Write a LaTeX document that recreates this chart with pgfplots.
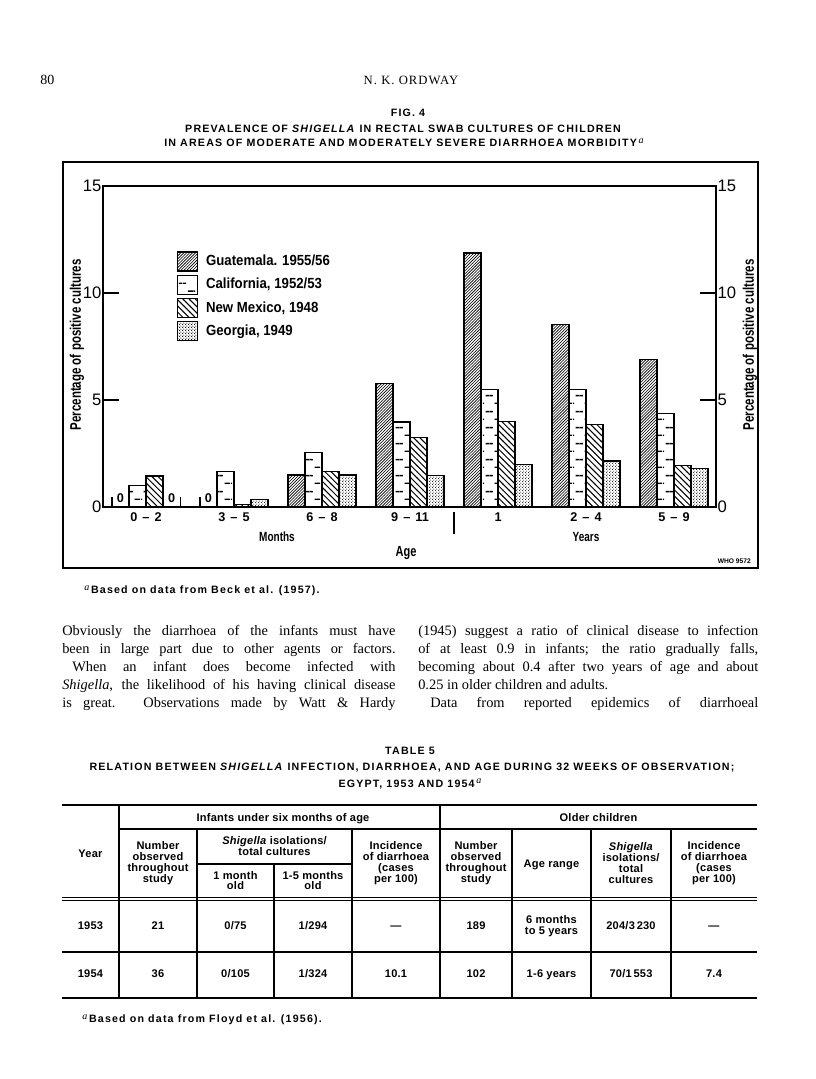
\documentclass[border=0pt]{standalone}
\usepackage{fontspec}
\setmainfont{Liberation Serif}
\newfontfamily\hv{Liberation Sans}
\newfontfamily\hvc[FakeStretch=0.75]{Liberation Sans}
\newfontfamily\hvl[FakeStretch=0.9]{Liberation Sans}
\newfontfamily\hvt[LetterSpace=11]{Liberation Sans}
\newfontfamily\hvtab[LetterSpace=2]{Liberation Sans}
\usepackage{pgfplots}
\usepackage{pgfplotstable}
\pgfplotsset{compat=1.18}
\usetikzlibrary{patterns}

\pgfdeclarepatternformonly{guat}{\pgfqpoint{-1pt}{-1pt}}{\pgfqpoint{3.2pt}{3.2pt}}{\pgfqpoint{2.2pt}{2.2pt}}{%
  \pgfsetlinewidth{0.45pt}%
  \pgfpathmoveto{\pgfqpoint{-0.1pt}{-0.1pt}}%
  \pgfpathlineto{\pgfqpoint{2.3pt}{2.3pt}}%
  \pgfusepath{stroke}}
\pgfdeclarepatternformonly{nm}{\pgfqpoint{-1pt}{-1pt}}{\pgfqpoint{6pt}{6pt}}{\pgfqpoint{4.6pt}{4.6pt}}{%
  \pgfsetlinewidth{0.75pt}%
  \pgfpathmoveto{\pgfqpoint{-0.1pt}{4.7pt}}%
  \pgfpathlineto{\pgfqpoint{4.7pt}{-0.1pt}}%
  \pgfusepath{stroke}}
% brick-like dashes; tile width 13.2pt = group spacing / 5
\pgfdeclarepatternformonly{cal}{\pgfqpoint{0pt}{0pt}}{\pgfqpoint{13.2pt}{12pt}}{\pgfqpoint{13.2pt}{12pt}}{%
  \pgfsetlinewidth{1pt}%
  \pgfpathmoveto{\pgfqpoint{8.9pt}{3pt}}\pgfpathlineto{\pgfqpoint{13.2pt}{3pt}}%
  \pgfpathmoveto{\pgfqpoint{0pt}{3pt}}\pgfpathlineto{\pgfqpoint{0.9pt}{3pt}}%
  \pgfpathmoveto{\pgfqpoint{5.1pt}{9pt}}\pgfpathlineto{\pgfqpoint{7.6pt}{9pt}}%
  \pgfpathmoveto{\pgfqpoint{2.1pt}{9pt}}\pgfpathlineto{\pgfqpoint{4.65pt}{9pt}}%
  \pgfusepath{stroke}}
\pgfdeclarepatternformonly{geo}{\pgfqpoint{0pt}{0pt}}{\pgfqpoint{2pt}{2pt}}{\pgfqpoint{2pt}{2pt}}{%
  \pgfpathcircle{\pgfqpoint{0.5pt}{0.5pt}}{0.42pt}%
  \pgfpathcircle{\pgfqpoint{1.5pt}{1.5pt}}{0.42pt}%
  \pgfusepath{fill}}

\pgfplotstableread{
x gua cal nm geo
0 0 1.0 1.45 0
1 0 1.65 0.12 0.35
2 1.5 2.55 1.65 1.5
3 5.77 3.97 3.24 1.48
4 11.87 5.5 4.0 1.98
5 8.54 5.5 3.85 2.15
6 6.89 4.36 1.95 1.79
}\shigdata

\newcommand{\supa}{{\rmfamily\mdseries\itshape\fontsize{7.5}{7.5}\selectfont\raisebox{0.7ex}{a}}}
\newcommand{\rg}[2]{#1\hspace{0.4em}–\hspace{0.4em}#2}

\begin{document}
\begin{tikzpicture}
\begin{scope}[x=0.75pt,y=-0.75pt]
\path[use as bounding box, fill=white] (0,0) rectangle (816,1079);
% page header
\node[anchor=west,inner sep=0pt,font=\fontsize{10.5}{12}\selectfont] at (40,80) {80};
\node[inner sep=0pt,font=\fontsize{9.5}{11}\selectfont] at (411,80) {\addfontfeatures{LetterSpace=8}N. K. ORDWAY};
% figure title
\begin{scope}[every node/.style={inner sep=0pt,font=\hvt\bfseries\fontsize{8}{9}\selectfont}]
\node at (408,113) {FIG. 4};
\node at (403,129) {PREVALENCE OF \textit{SHIGELLA} IN RECTAL SWAB CULTURES OF CHILDREN};
\node at (404,143) {IN AREAS OF MODERATE AND MODERATELY SEVERE DIARRHOEA MORBIDITY\,\supa};
\end{scope}
% frame
\draw[line width=1pt] (63,162) rectangle (758,568);
% axis annotations
\node[font=\hvc\bfseries\fontsize{10}{12}\selectfont] at (277,537) {Months};
\node[font=\hvc\bfseries\fontsize{10}{12}\selectfont] at (586,537) {Years};
\node[font=\hvc\bfseries\fontsize{11}{12}\selectfont] at (406,553) {Age};
\node[anchor=east,inner sep=0pt,font=\hv\bfseries\fontsize{5}{6}\selectfont] at (751,561) {WHO 9572};
\draw[line width=0.9pt] (454,512) -- (454,534);
% caption
\node[anchor=west,inner sep=0pt,font=\hvt\bfseries\fontsize{8}{9}\selectfont] at (84,591) {\supa\,Based on data from Beck et al. (1957).};
% body text
\begin{scope}[every node/.style={anchor=base west,inner sep=0pt,font=\fontsize{10.8}{12}\selectfont}]
\node at (62,635) {\makebox[250pt][s]{Obviously the diarrhoea of the infants must have}};
\node at (62,653) {\makebox[250pt][s]{been in large part due to other agents or factors.}};
\node at (62,671) {\makebox[250pt][s]{\hspace*{7.5pt}When an infant does become infected with}};
\node at (62,689) {\makebox[250pt][s]{\textit{Shigella}, the likelihood of his having clinical disease}};
\node at (62,707) {\makebox[250pt][s]{is great. Observations made by Watt \& Hardy}};
\node at (418,635) {\makebox[255pt][s]{(1945) suggest a ratio of clinical disease to infection}};
\node at (418,653) {\makebox[255pt][s]{of at least 0.9 in infants; the ratio gradually falls,}};
\node at (418,671) {\makebox[255pt][s]{becoming about 0.4 after two years of age and about}};
\node at (418,689) {0.25 in older children and adults.};
\node at (418,707) {\makebox[255pt][s]{\hspace*{9pt}Data from reported epidemics of diarrhoeal}};
\end{scope}
% table title
\begin{scope}[every node/.style={inner sep=0pt,font=\hvt\bfseries\fontsize{8}{9}\selectfont}]
\node at (410,751) {TABLE 5};
\node at (412,768) {RELATION BETWEEN \textit{SHIGELLA} INFECTION, DIARRHOEA, AND AGE DURING 32 WEEKS OF OBSERVATION;};
\node at (410,784) {EGYPT, 1953 AND 1954\,\supa};
\end{scope}
% table rules
\draw[line width=1.1pt] (62,805) -- (757,805);
\draw[line width=0.8pt] (119,829) -- (757,829);
\draw[line width=0.8pt] (197,864) -- (352,864);
\draw[line width=0.7pt] (62,897) -- (757,897);
\draw[line width=0.7pt] (62,900.5) -- (757,900.5);
\draw[line width=0.8pt] (62,952) -- (757,952);
\draw[line width=1.1pt] (62,998) -- (757,998);
\draw[line width=0.8pt] (119,805) -- (119,998);
\draw[line width=0.8pt] (440,805) -- (440,998);
\foreach \xx in {197,352,512,591,671} {\draw[line width=0.8pt] (\xx,829) -- (\xx,998);}
\draw[line width=0.8pt] (274,864) -- (274,998);
% table text
\begin{scope}[every node/.style={inner sep=0pt,align=center,font=\hvtab\bfseries\fontsize{8.3}{8.2}\selectfont}]
\node[anchor=base] at (283,821) {Infants under six months of age};
\node[anchor=base] at (598.5,821) {Older children};
\node[anchor=base] at (90.5,857) {Year};
\node at (158,863) {Number\\observed\\throughout\\study};
\node at (274.5,846) {\textit{Shigella} isolations/\\total cultures};
\node at (235.5,880.5) {1 month\\old};
\node at (313,880.5) {1-5 months\\old};
\node at (396,863) {Incidence\\of diarrhoea\\(cases\\per 100)};
\node at (476,863) {Number\\observed\\throughout\\study};
\node[anchor=base] at (551.5,867) {Age range};
\node at (631,863) {\textit{Shigella}\\isolations/\\total\\cultures};
\node at (714,863) {Incidence\\of diarrhoea\\(cases\\per 100)};
\node[anchor=base] at (90.5,929) {1953};
\node[anchor=base] at (158,929) {21};
\node[anchor=base] at (235.5,929) {0/75};
\node[anchor=base] at (313,929) {1/294};
\node[anchor=base] at (396,929) {—};
\node[anchor=base] at (476,929) {189};
\node at (551.5,926) {6 months\\to 5 years};
\node[anchor=base] at (631,929) {204/3\,230};
\node[anchor=base] at (714,929) {—};
\node[anchor=base] at (90.5,977) {1954};
\node[anchor=base] at (158,977) {36};
\node[anchor=base] at (235.5,977) {0/105};
\node[anchor=base] at (313,977) {1/324};
\node[anchor=base] at (396,977) {10.1};
\node[anchor=base] at (476,977) {102};
\node[anchor=base] at (551.5,977) {1-6 years};
\node[anchor=base] at (631,977) {70/1\,553};
\node[anchor=base] at (714,977) {7.4};
\end{scope}
\node[anchor=west,inner sep=0pt,font=\hvt\bfseries\fontsize{8}{9}\selectfont] at (82,1020) {\supa\,Based on data from Floyd et al. (1956).};
\end{scope}

\pgfplotsset{
  mybar/.style={ybar, draw=black, line width=1.05pt, fill=white,
    legend image code/.code={\draw[##1,line width=0.9pt] (0pt,-7.1pt) rectangle (15pt,7.1pt);}},
}
\begin{axis}[
  at={(77.25pt,-380.25pt)}, anchor=south west,
  scale only axis, width=459.75pt, height=240.75pt,
  xmin=-0.489, xmax=6.477, ymin=0, ymax=15,
  axis line style={line width=1pt},
  ytick={0,5,10,15},
  tick align=inside, major tick length=12pt,
  ytick style={line width=0.9pt, black},
  yticklabel style={font=\hv\fontsize{12.5}{14}\selectfont, anchor=east, inner sep=0pt, xshift=-1pt},
  /pgf/number format/assume math mode=true,
  xtick={0,1,2,3,4,5,6},
  xticklabels={\rg{0}{2}, \rg{3}{5}, \rg{6}{8}, \rg{9}{11}, 1, \rg{2}{4}, \rg{5}{9}},
  xtick style={draw=none},
  xticklabel style={font=\hv\bfseries\fontsize{9.5}{11}\selectfont, anchor=north, inner sep=0pt, yshift=-4pt},
  ylabel={Percentage of positive cultures},
  ylabel style={at={(axis description cs:-0.0424,0.505)}, anchor=center, font=\hvc\bfseries\fontsize{11.5}{12}\selectfont},
  legend style={at={(axis description cs:0.1207,0.797)}, anchor=north west, draw=none, fill=none,
    font=\hvl\bfseries\fontsize{11}{12}\selectfont, row sep=2.25pt, inner sep=0pt,
    /tikz/every odd column/.append style={column sep=3.75pt}},
  legend cell align=left,
  bar width=0.193,
]
\addplot[mybar, bar shift=-0.29, pattern=guat] table[x=x,y=gua]{\shigdata};
\addlegendentry{Guatemala. 1955/56}
\addplot[mybar, bar shift=-0.0965, pattern=cal] table[x=x,y=cal]{\shigdata};
\addlegendentry{California, 1952/53}
\addplot[mybar, bar shift=0.0965, pattern=nm] table[x=x,y=nm]{\shigdata};
\addlegendentry{New Mexico, 1948}
\addplot[mybar, bar shift=0.29, pattern=geo] table[x=x,y=geo]{\shigdata};
\addlegendentry{Georgia, 1949}
% zero markers
\draw[line width=0.8pt] (axis cs:-0.3865,0) -- (axis cs:-0.3865,0.45);
\draw[line width=0.8pt] (axis cs:0.3865,0) -- (axis cs:0.3865,0.45);
\draw[line width=0.8pt] (axis cs:0.6135,0) -- (axis cs:0.6135,0.45);
\node[anchor=base, inner sep=0pt, font=\hv\bfseries\fontsize{9.5}{11}\selectfont] at (axis cs:-0.29,0.2) {0};
\node[anchor=base, inner sep=0pt, font=\hv\bfseries\fontsize{9.5}{11}\selectfont] at (axis cs:0.29,0.2) {0};
\node[anchor=base, inner sep=0pt, font=\hv\bfseries\fontsize{9.5}{11}\selectfont] at (axis cs:0.71,0.2) {0};
\end{axis}

\begin{axis}[
  at={(77.25pt,-380.25pt)}, anchor=south west,
  scale only axis, width=459.75pt, height=240.75pt,
  xmin=-0.489, xmax=6.477, ymin=0, ymax=15,
  hide x axis, axis y line*=right,
  y axis line style={draw=none},
  ytick={0,5,10,15}, ytick style={draw=none},
  yticklabel style={font=\hv\fontsize{12.5}{14}\selectfont, anchor=west, inner sep=0pt, xshift=1pt},
  /pgf/number format/assume math mode=true,
  ylabel={Percentage of positive cultures},
  ylabel style={at={(axis description cs:1.0555,0.505)}, anchor=center, rotate=0, font=\hvc\bfseries\fontsize{11.5}{12}\selectfont},
]
\end{axis}
\end{tikzpicture}
\end{document}
